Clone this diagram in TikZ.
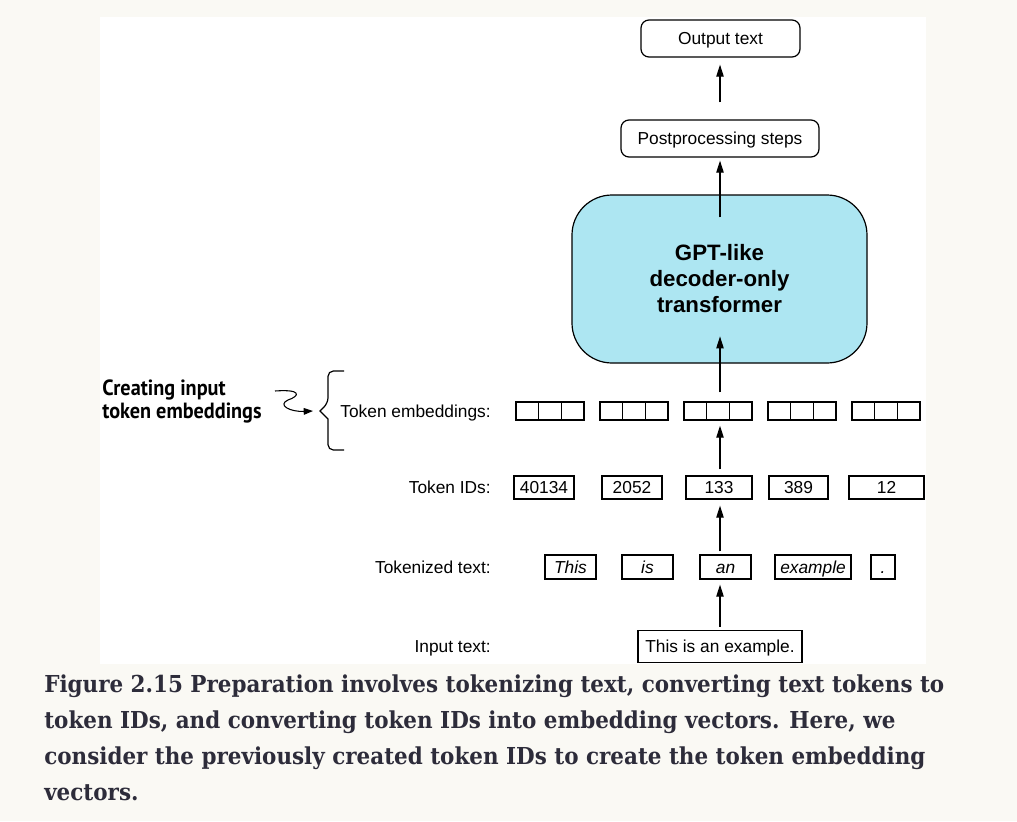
\documentclass[tikz,border=0pt]{standalone}
\usepackage{fontspec}
\setmainfont{Liberation Sans}
\newfontfamily\notefont[FakeStretch=0.92]{PT Sans}
\newfontfamily\capfont[FakeStretch=0.92]{DejaVu Serif}
\usetikzlibrary{arrows.meta}

\definecolor{pagebg}{HTML}{FAF9F4}
\definecolor{gptblue}{HTML}{ADE6F2}
\definecolor{captext}{HTML}{2D2C3A}

\tikzset{
  box/.style={draw, line width=0.9pt, inner sep=0pt, minimum height=17.25pt,
    text height=9.3pt, text depth=0pt, font=\fontsize{13}{15}\selectfont},
  rbox/.style={box, rounded corners=6pt, minimum height=27.75pt},
  cell/.style={draw, line width=1pt, inner sep=0pt,
    minimum width=17pt, minimum height=13.5pt},
  rowlabel/.style={anchor=east, inner sep=0pt, text height=9.3pt, text depth=0pt,
    font=\fontsize{13}{15}\selectfont},
  arr/.style={line width=0.9pt, -{Triangle[length=9pt,width=5.5pt]}},
}

\begin{document}
\begin{tikzpicture}[x={(0.75pt,0)}, y={(0,-0.75pt)}]
  % page and white panel
  \fill[pagebg] (0,0) rectangle (1017,821);
  \fill[white] (100,17) rectangle (926,664);

  % top of the pipeline
  \node[rbox, minimum width=119.25pt] (out) at (720.5,38.5) {Output text};
  \node[rbox, minimum width=148.5pt] (post) at (720,138.5) {Postprocessing steps};
  \node[draw, line width=0.9pt, fill=gptblue, rounded corners=30pt,
        minimum width=221.25pt, minimum height=126pt, align=center,
        font=\bfseries\fontsize{16.7}{19.5}\selectfont] (gpt) at (719.5,279)
        {GPT-like\\decoder-only\\transformer};

  % token embeddings: five vectors of three cells
  \foreach \g in {0,...,4}
    \foreach \c in {1,2,3}
      \node[cell] (emb\g\c) at ({550+84*\g+22.7*(\c-2)},411) {};

  % token IDs
  \foreach \x/\w/\t [count=\i] in {544/45/40134, 632/45/2052, 719/49.5/133,
                                   798.5/44.25/389, 886.5/56.25/12}
    \node[box, minimum width=\w pt] (id\i) at (\x,487.5) {\t};

  % tokenized text
  \foreach \x/\w/\t [count=\i] in {570.5/38.25/This, 647.5/38.25/is, 725.5/38.25/an,
                                   813/57/example, 883/18/.}
    \node[box, minimum width=\w pt, minimum height=18pt,
          font=\itshape\fontsize{13}{15}\selectfont] (tok\i) at (\x,567) {\t};

  % input text
  \node[box, minimum width=123pt, minimum height=24pt] (inp) at (720,646.5) {This is an example.};

  % row labels
  \node[rowlabel] (lblemb) at (491,411) {Token embeddings:};
  \node[rowlabel] (lblid)  at (491,487.5) {Token IDs:};
  \node[rowlabel] (lbltok) at (491,567) {Tokenized text:};
  \node[rowlabel] (lblinp) at (491,646.5) {Input text:};

  % arrows up the pipeline
  \draw[arr] ([yshift=2.25pt]inp.north) -- ([yshift=-3.75pt]inp.north |- tok3.south);
  \draw[arr] ([yshift=2.25pt]inp.north |- tok3.north) -- ([yshift=-4.5pt]inp.north |- id3.south);
  \draw[arr] ([yshift=4.5pt]inp.north |- id3.north) -- ([yshift=-3.75pt]inp.north |- emb22.south);
  \draw[arr] ([yshift=6.75pt]inp.north |- emb22.north) -- ++(0,-56);
  \draw[arr] ([yshift=-17.25pt]inp.north |- gpt.north) -- ([yshift=-2.25pt]inp.north |- post.south);
  \draw[arr] ([yshift=12.75pt]inp.north |- post.north) -- ([yshift=-5.25pt]inp.north |- out.south);

  % brace and note
  \draw[line width=0.9pt, rounded corners=4pt]
    (344,371) -- (328,371) -- (328,403) [sharp corners] -- (320,411) -- (328,419)
    [rounded corners=4pt] -- (328,450) -- (344,450);
  \node[anchor=west, align=left, inner sep=0pt, text=black,
        font=\notefont\bfseries\fontsize{16.5}{17.25}\selectfont] (note) at (102,401)
        {Creating input\\token embeddings};
  \coordinate (sqstart) at (275,391);
  \coordinate (bracetip) at (313,411);
  \draw[line width=0.8pt, -{Triangle[length=7pt,width=5pt]}]
    (sqstart) .. controls (302,389) and (300,396) .. (288,400)
    .. controls (277,405) and (290,412) .. (bracetip);

  % caption
  \node[anchor=north west, align=left, inner sep=0pt, text=captext,
        font=\capfont\bfseries\fontsize{17.5}{27}\selectfont] (caption) at (44,674)
    {Figure 2.15 Preparation involves tokenizing text, converting text tokens to\\
     token IDs, and converting token IDs into embedding vectors. Here, we\\
     consider the previously created token IDs to create the token embedding\\
     vectors.};
\end{tikzpicture}
\end{document}
